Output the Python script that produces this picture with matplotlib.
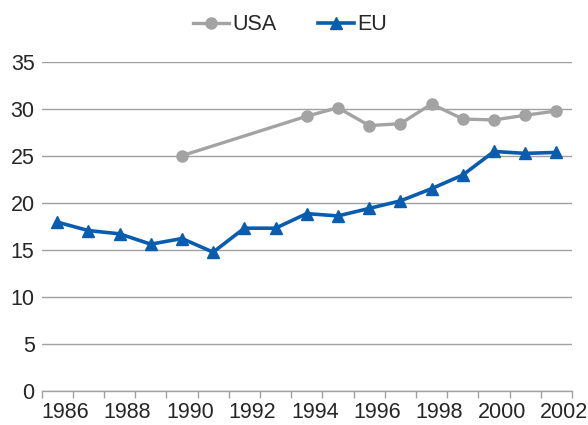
import numpy as np
import matplotlib
matplotlib.use("Agg")
import matplotlib.pyplot as plt
from matplotlib.transforms import ScaledTranslation, blended_transform_factory

years = list(range(1986, 2003))
usa = [np.nan, np.nan, np.nan, np.nan, 25.0, np.nan, np.nan, np.nan, 29.2, 30.1,
       28.2, 28.4, 30.5, 28.9, 28.8, 29.3, 29.75]
eu = [17.95, 17.05, 16.7, 15.6, 16.2, 14.75, 17.3, 17.3, 18.85, 18.6,
      19.4, 20.2, 21.5, 22.95, 25.45, 25.25, 25.35]
yticks = [0, 5, 10, 15, 20, 25, 30, 35]

plt.rcParams['font.family'] = ['Liberation Sans', 'DejaVu Sans']
txt_color = '#262626'
grid_color = '#A0A0A0'
usa_color = '#A3A3A3'
eu_color = '#0A5DAE'
fs = 15.5

fig = plt.figure(figsize=(5.88, 4.25), dpi=100)
ax = fig.add_axes([41.5 / 588, (425 - 391) / 425, (572 - 41.5) / 588, (391 - 61.6) / 425])

x = np.arange(len(years))
usa_arr = np.array(usa, dtype=float)
mask = ~np.isnan(usa_arr)
ax.plot(x[mask], usa_arr[mask], color=usa_color, lw=2.4, marker='o', ms=8,
        label='USA', zorder=3, solid_joinstyle='round')
ax.plot(x, eu, color=eu_color, lw=2.6, marker='^', ms=8.5,
        label='EU', zorder=4, solid_joinstyle='round')

ax.set_xlim(-0.5, len(years) - 0.5)
ax.set_ylim(0, 35)
ax.set_yticks(yticks)
ax.set_yticklabels([str(v) for v in yticks], fontsize=fs, color=txt_color)
ax.tick_params(axis='y', length=0, pad=5)
ax.yaxis.grid(True, color=grid_color, lw=1.0)
ax.set_axisbelow(True)

for s in ['top', 'right', 'left']:
    ax.spines[s].set_visible(False)
ax.spines['bottom'].set_color(grid_color)
ax.spines['bottom'].set_linewidth(1.0)

# tick marks at category boundaries
ax.set_xticks(np.arange(-0.5, len(years), 1.0))
ax.set_xticklabels([])
ax.tick_params(axis='x', length=5, width=1.0, color=grid_color, direction='out')

# category labels (every second year)
trans = blended_transform_factory(ax.transData, ax.transAxes) + \
    ScaledTranslation(0.08, -0.105, fig.dpi_scale_trans)
for i, yr in enumerate(years):
    if i % 2 == 0:
        ax.text(i, 0, str(yr), transform=trans, ha='center', va='top',
                fontsize=fs, color=txt_color)

leg = fig.legend(loc='center', bbox_to_anchor=(290 / 588, 1 - 25 / 425), ncol=2,
                 frameon=False, fontsize=fs, handlelength=1.7, handletextpad=0.15,
                 columnspacing=1.9, borderaxespad=0)
for t in leg.get_texts():
    t.set_color(txt_color)

fig.savefig('out.png', dpi=100)
